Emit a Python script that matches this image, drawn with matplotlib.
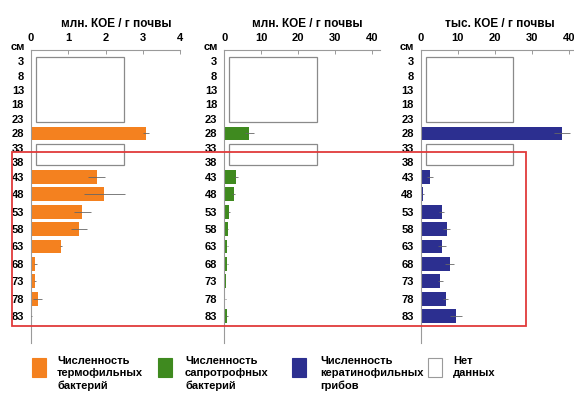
import numpy as np
import matplotlib
matplotlib.use("Agg")
import matplotlib.pyplot as plt
from matplotlib.patches import Rectangle

plt.rcParams['font.family'] = ['Liberation Sans Narrow', 'Liberation Sans', 'DejaVu Sans']
plt.rcParams['font.weight'] = 'bold'

# Sampling depths, cm
depths = [3, 8, 13, 18, 23, 28, 33, 38, 43, 48, 53, 58, 63, 68, 73, 78, 83]

# Depth groups without measurements
no_data_groups = [(3, 23), (33, 38)]

# Measured depths
measured = [28, 43, 48, 53, 58, 63, 68, 73, 78, 83]

# Thermophilic bacteria, mln CFU / g soil
thermo_mean = [3.09, 1.76, 1.97, 1.38, 1.28, 0.80, 0.12, 0.11, 0.18, 0.02]
thermo_err = [0.07, 0.22, 0.56, 0.22, 0.21, 0.03, 0.03, 0.02, 0.12, 0.01]

# Saprotrophic bacteria, mln CFU / g soil
sapro_mean = [6.7, 3.25, 2.5, 1.27, 0.9, 0.8, 0.8, 0.46, 0.3, 0.7]
sapro_err = [1.2, 0.5, 0.5, 0.3, 0.2, 0.2, 0.2, 0.1, 0.1, 0.2]

# Keratinophilic fungi, thousand CFU / g soil
kerat_mean = [38.1, 2.6, 0.6, 5.7, 7.0, 5.8, 7.8, 5.3, 6.8, 9.5]
kerat_err = [2.2, 0.8, 0.2, 0.7, 0.9, 1.0, 1.3, 0.6, 0.7, 1.7]

panel_titles = ["млн. КОЕ / г почвы", "млн. КОЕ / г почвы", "тыс. КОЕ / г почвы"]
panel_ticks = [[0, 1, 2, 3, 4], [0, 10, 20, 30, 40], [0, 10, 20, 30, 40]]
panel_xmax = [4, 42, 42]
legend_labels = ["Численность\nтермофильных\nбактерий",
                 "Численность\nсапротрофных\nбактерий",
                 "Численность\nкератинофильных\nгрибов",
                 "Нет\nданных"]

colors = ["#f4811f", "#3f8a1f", "#2c2f90"]


def row_pos(d):
    # upper rows are packed more tightly than the lower ones
    return np.interp(d, [3, 43, 83], [0.0, 8.0, 17.6])


W, H = 574, 398
fig = plt.figure(figsize=(W / 100, H / 100), dpi=100)

lefts = [31, 224.3, 420.7]
widths = [149, 155.4, 155.4]
top_px, bottom_px = 50, 343
title_x = [2.3, 22.5, 21.5]

series = [(thermo_mean, thermo_err), (sapro_mean, sapro_err), (kerat_mean, kerat_err)]

for i in range(3):
    ax = fig.add_axes([lefts[i] / W, 1 - bottom_px / H, widths[i] / W,
                       (bottom_px - top_px) / H])
    xmax = panel_xmax[i]
    full = panel_ticks[i][-1]
    ax.set_xlim(0, xmax)
    ax.set_ylim(19.46, -0.76)
    mean, err = series[i]
    ypos = row_pos(np.array(measured))
    ax.barh(ypos, mean, height=0.95, color=colors[i], edgecolor='none', zorder=2)
    ax.errorbar(mean, ypos, xerr=err, fmt='none', ecolor='#666666',
                elinewidth=0.6, capsize=0, zorder=3)
    for d0, d1 in no_data_groups:
        y0 = row_pos(d0) - 0.3
        y1 = row_pos(d1) + 0.2
        ax.add_patch(Rectangle((0.034 * full, y0), 0.59 * full, y1 - y0,
                               facecolor='white', edgecolor='#8a8a8a', lw=0.9, zorder=2))
    for s in ['right', 'bottom']:
        ax.spines[s].set_visible(False)
    for s in ['top', 'left']:
        ax.spines[s].set_color('#9a9a9a')
        ax.spines[s].set_linewidth(0.8)
    ax.xaxis.tick_top()
    ax.set_xticks(panel_ticks[i])
    ax.set_xticklabels([str(t) for t in panel_ticks[i]], fontsize=8, fontweight='bold')
    ax.tick_params(axis='x', direction='in', length=3, width=0.7, color='#9a9a9a', pad=5)
    ax.set_yticks(row_pos(np.array(depths)))
    ax.set_yticklabels([str(d) for d in depths], fontsize=8, fontweight='bold')
    ax.tick_params(axis='y', length=0, pad=5)
    ax.text(-0.04, -0.97, "см", transform=ax.get_yaxis_transform(),
            ha='right', va='center', fontsize=8, fontweight='bold')
    ax.text(title_x[i], 1.0 + 26 / (bottom_px - top_px), panel_titles[i],
            transform=ax.get_xaxis_transform(), ha='center', va='center',
            fontsize=8.5, fontweight='bold')
    ax.patch.set_visible(False)

# highlighted depth range
fig.add_artist(Rectangle((12 / W, 1 - 326 / H), (526 - 12) / W, (326 - 152) / H,
                         transform=fig.transFigure, fill=False,
                         edgecolor='#e03a3a', lw=1.3))

# legend
sq_x = [32, 158, 292, 428]
txt_x = [57, 185, 320, 453]
sq_colors = colors + ['white']
for k in range(4):
    edge = '#9a9a9a' if k == 3 else sq_colors[k]
    fig.add_artist(Rectangle((sq_x[k] / W, 1 - 377 / H), 14 / W, 19 / H,
                             transform=fig.transFigure, facecolor=sq_colors[k],
                             edgecolor=edge, lw=0.8))
    fig.text(txt_x[k] / W, 1 - 356 / H, legend_labels[k], ha='left', va='top',
             fontsize=8, fontweight='bold', linespacing=1.3)

fig.savefig("out.png", dpi=100)
